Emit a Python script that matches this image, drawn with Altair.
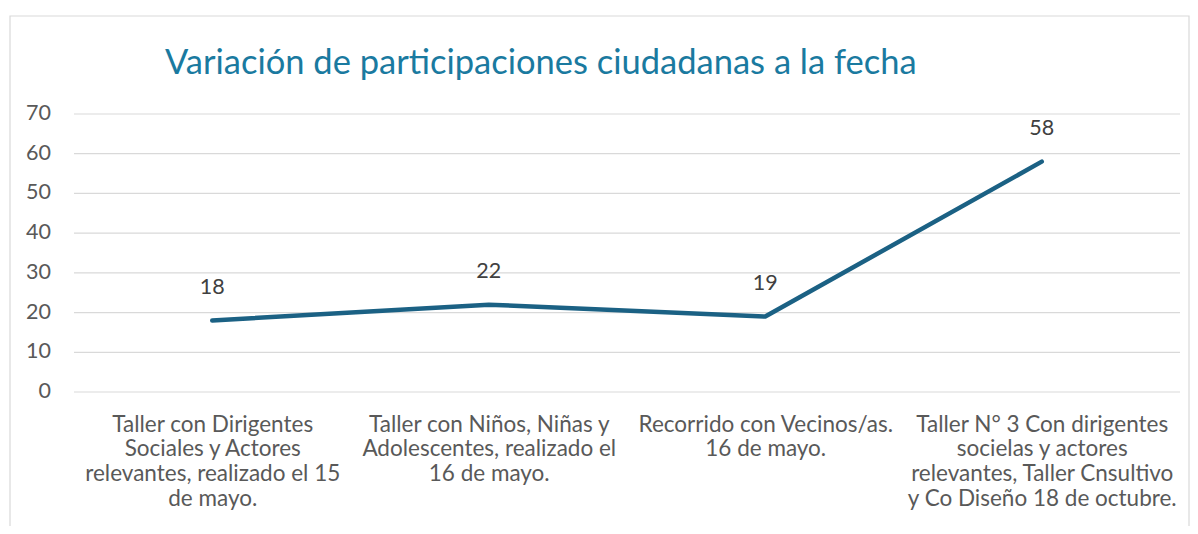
import altair as alt
import pandas as pd

categories = [
    "Taller con Dirigentes\nSociales y Actores\nrelevantes, realizado el 15\nde mayo.",
    "Taller  con Niños, Niñas y\nAdolescentes, realizado el\n16 de mayo.",
    "Recorrido con Vecinos/as.\n16 de mayo.",
    "Taller N° 3 Con dirigentes\nsocielas y actores\nrelevantes, Taller Cnsultivo\ny Co Diseño 18 de octubre.",
]
values = [18, 22, 19, 58]
y_ticks = [0, 10, 20, 30, 40, 50, 60, 70]
title_text = "Variación de participaciones ciudadanas a la fecha"

df = pd.DataFrame({"cat": categories, "val": values})
ticks_df = pd.DataFrame({"val": y_ticks})

FONT = "Lato"

x = alt.X(
    "cat:N",
    sort=categories,
    scale=alt.Scale(type="point", padding=0.5),
    axis=alt.Axis(
        title=None,
        labelAngle=0,
        labelExpr="split(datum.label, '\\n')",
        labelFontSize=22.5,
        labelColor="#595959",
        labelFont=FONT,
        labelLineHeight=24.7,
        labelPadding=21,
        labelBaseline="top",
        labelLimit=400,
        labelOverlap=False,
        domain=False,
        ticks=False,
        grid=False,
    ),
)
y = alt.Y(
    "val:Q",
    scale=alt.Scale(domain=[0, 70], nice=False),
    axis=None,
)

border = alt.Chart(pd.DataFrame({"k": [0]})).mark_rect(
    fill=None, stroke="#d9d9d9", strokeWidth=1.2
).encode(
    x=alt.value(-64), x2=alt.value(1115), y=alt.value(-98), y2=alt.value(430)
)

grid = alt.Chart(ticks_df).mark_rule(color="#d9d9d9", strokeWidth=1.2).encode(
    y=y, x=alt.value(0), x2=alt.value(1106)
)

ylabels = alt.Chart(ticks_df).mark_text(
    align="right", baseline="middle", fontSize=21.5, color="#595959", font=FONT
).encode(y=y, x=alt.value(-23), text="val:Q")

line = alt.Chart(df).mark_line(
    color="#1b6184", strokeWidth=4.5, strokeCap="round", strokeJoin="round"
).encode(x=x, y=y)

labels = alt.Chart(df).mark_text(
    dy=-33, fontSize=21.5, color="#404040", font=FONT, baseline="middle"
).encode(x=x, y=y, text="val:Q")

chart = alt.layer(border, grid, ylabels, line, labels).properties(
    width=1106,
    height=278,
    padding={"left": 66, "top": 106, "right": 10, "bottom": 134},
    autosize=alt.AutoSizeParams(type="none"),
    title=alt.TitleParams(
        text=title_text,
        anchor="start",
        frame="group",
        dx=91,
        offset=-93,
        baseline="alphabetic",
        fontSize=34.5,
        font=FONT,
        fontWeight="normal",
        color="#1a7aa0",
    ),
).configure_view(stroke=None)

chart.save("out.html", embed_options={"renderer": "svg", "actions": False})
